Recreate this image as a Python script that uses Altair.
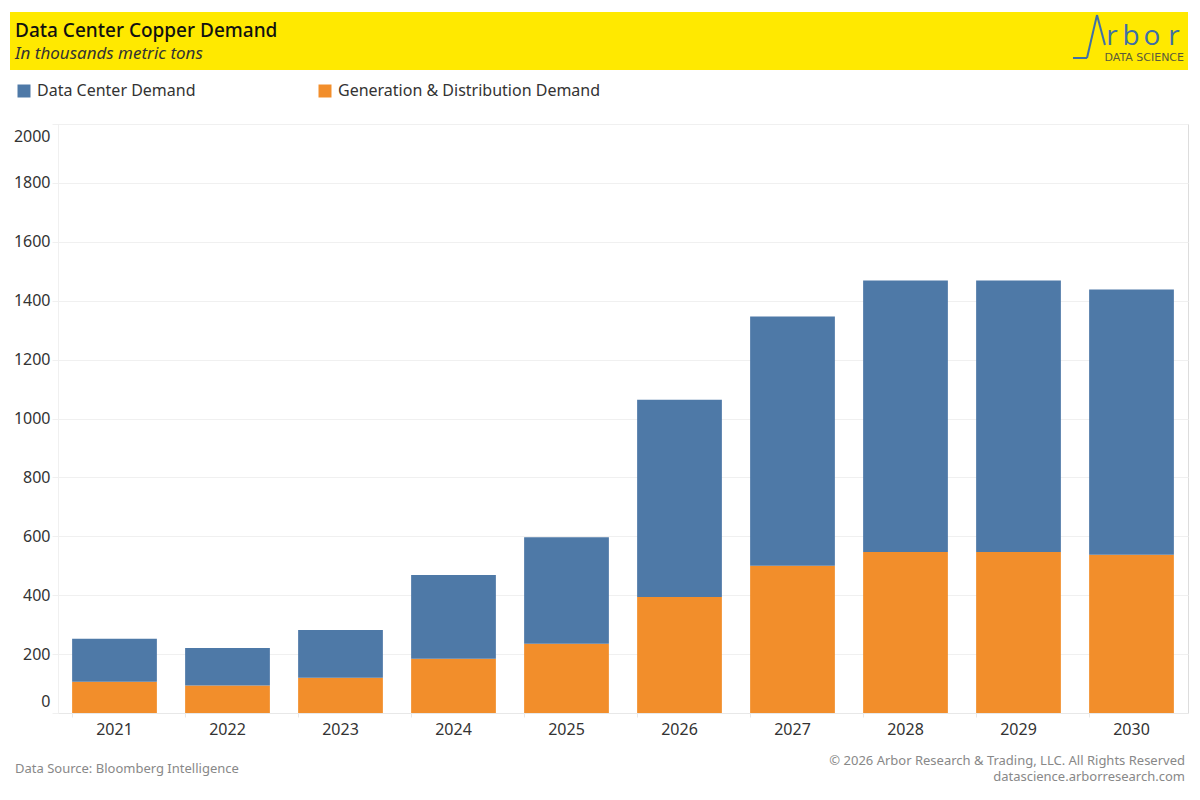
import altair as alt
import pandas as pd

years = ["2021", "2022", "2023", "2024", "2025", "2026", "2027", "2028", "2029", "2030"]
gen_demand = [106, 93, 120, 184, 235, 394, 500, 547, 547, 537]
dc_demand = [146, 128, 162, 285, 362, 670, 846, 922, 922, 901]
series = ["Data Center Demand", "Generation & Distribution Demand"]
colors = ["#4E79A7", "#F28E2B"]
y_ticks = list(range(0, 2001, 200))

title = "Data Center Copper Demand"
subtitle = "In thousands metric tons"
source = "Data Source: Bloomberg Intelligence"
copyright_txt = "© 2026 Arbor Research & Trading, LLC. All Rights Reserved"
site = "datascience.arborresearch.com"

rows = []
for y, g, d in zip(years, gen_demand, dc_demand):
    rows.append({"year": y, "series": series[1], "value": g, "ord": 0})
    rows.append({"year": y, "series": series[0], "value": d, "ord": 1})
df = pd.DataFrame(rows)

FONT = "Noto Sans"
GRID = "#f0f0f0"
LOGO = "#3F6FA6"
one = alt.Data(values=[{}])

bars = alt.Chart(df).mark_bar().encode(
    x=alt.X("year:N", sort=years, title=None,
            scale=alt.Scale(paddingInner=0.25, paddingOuter=0.125),
            axis=alt.Axis(labelAngle=0, labelFontSize=16, labelColor="#333333", labelFont=FONT,
                          domainColor="#e8e8e8", tickColor="#e8e8e8", tickSize=4, bandPosition=0,
                          labelPadding=4, grid=False)),
    y=alt.Y("value:Q", stack="zero", title=None,
            scale=alt.Scale(domain=[0, 2000], nice=False),
            axis=alt.Axis(values=y_ticks, format="d", labelFontSize=16, labelColor="#333333",
                          labelFont=FONT, domainColor=GRID, tickColor=GRID, tickSize=6,
                          gridColor=GRID, labelPadding=2, labelFlush=True, labelFlushOffset=-4)),
    color=alt.Color("series:N", scale=alt.Scale(domain=series, range=colors),
                    legend=alt.Legend(title=None, orient="none", legendX=-42, legendY=-41,
                                      direction="horizontal", symbolType="square", symbolSize=169,
                                      symbolStrokeWidth=0, labelFontSize=16, labelFont=FONT,
                                      labelColor="#333333", labelOffset=5, columnPadding=121,
                                      labelLimit=400)),
    order=alt.Order("ord:Q", sort="ascending"),
)

band = alt.Chart(one).mark_rect(color="#FFE900").encode(
    x=alt.value(-48), x2=alt.value(1130), y=alt.value(-112), y2=alt.value(-54))

def txt(s, x, y, size, color, align="left", weight="normal", style="normal", font=FONT):
    return alt.Chart(one).mark_text(text=s, align=align, baseline="alphabetic", fontSize=size,
                                    color=color, fontWeight=weight, fontStyle=style, font=font).encode(
        x=alt.value(x), y=alt.value(y))

def seg(x1, y1, x2, y2):
    return alt.Chart(one).mark_rule(color=LOGO, strokeWidth=2).encode(
        x=alt.value(x1), y=alt.value(y1), x2=alt.value(x2), y2=alt.value(y2))

layers = [
    band,
    txt(title, -43, -87, 19, "#111111", weight=500),
    txt(subtitle, -43, -65, 17, "#333333", style="italic"),
    seg(1015, -66, 1029, -66),
    seg(1029, -66, 1039, -109),
    seg(1039, -109, 1047, -79),
    txt("r", 1054, -79, 28, LOGO, align="center", font="Open Sans"),
    txt("b", 1073, -79, 28, LOGO, align="center", font="Open Sans"),
    txt("o", 1094, -79, 28, LOGO, align="center", font="Open Sans"),
    txt("r", 1116, -79, 28, LOGO, align="center", font="Open Sans"),
    txt("DATA SCIENCE", 1126, -63, 11, "#5b5b3b", align="right", font="DejaVu Sans"),
    bars,
    txt(source, -43, 649, 13, "#888888"),
    txt(copyright_txt, 1127, 641, 13, "#888888", align="right"),
    txt(site, 1127, 657, 13, "#888888", align="right"),
]

chart = alt.layer(*layers).properties(
    width=1130, height=589,
    autosize=alt.AutoSizeParams(type="none"),
    padding={"left": 50, "top": 116, "right": 4, "bottom": 76},
).configure_view(stroke=None).configure(font=FONT)

chart.save("out.html", embed_options={"renderer": "svg", "actions": False})
